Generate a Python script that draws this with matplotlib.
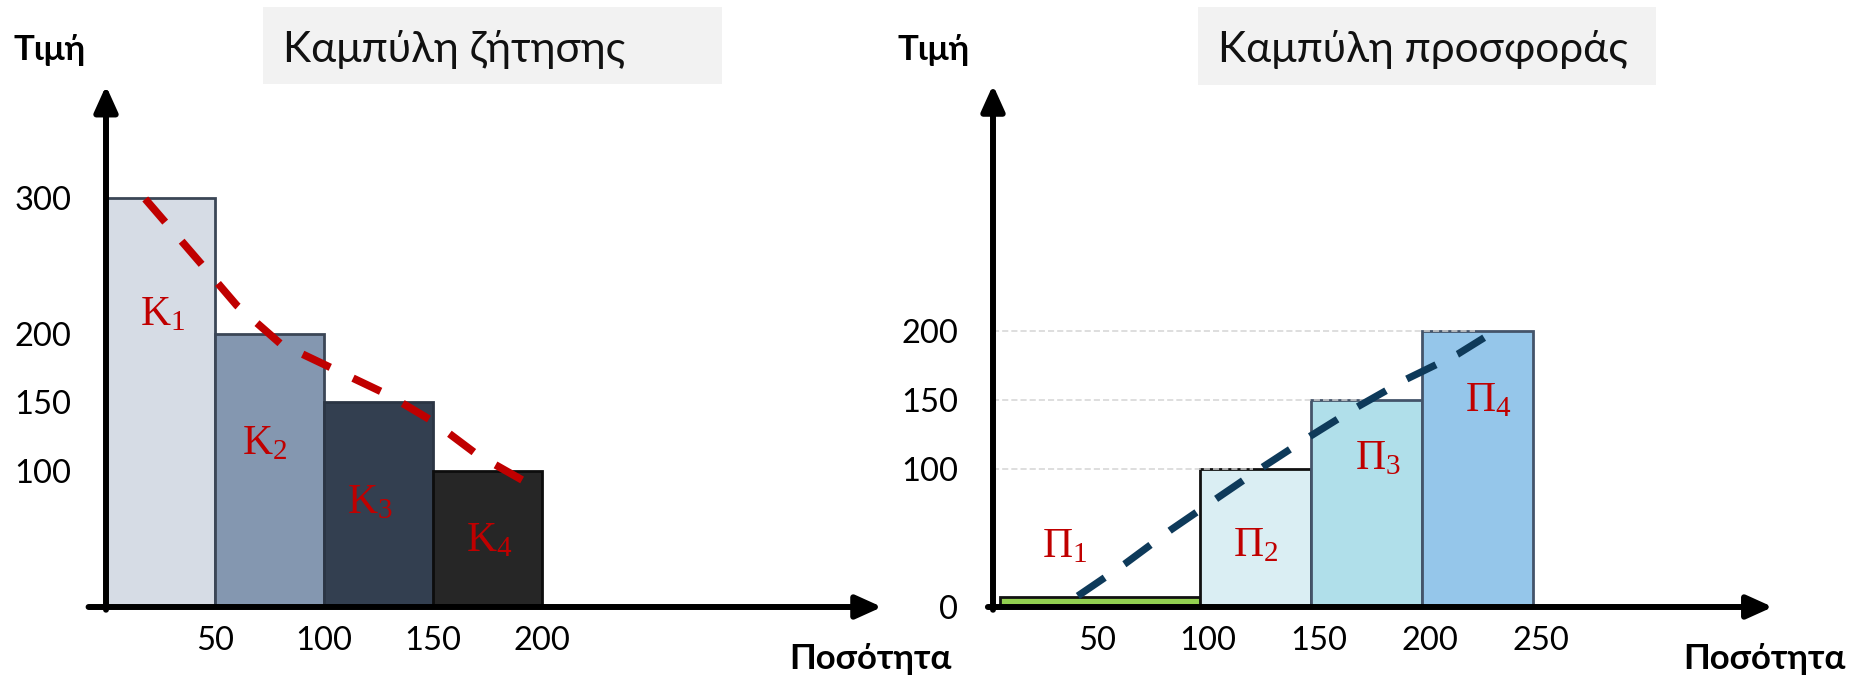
import matplotlib
matplotlib.use("Agg")
import matplotlib.pyplot as plt
import matplotlib.transforms as mtransforms
from matplotlib.patches import Rectangle

# ---- demand side (Καμπύλη ζήτησης) ----
demand_qty = [0, 50, 100, 150]          # left edge of each step
demand_width = 50
demand_price = [300, 200, 150, 100]
demand_names = [r"$\mathrm{Κ}_{1}$", r"$\mathrm{Κ}_{2}$", r"$\mathrm{Κ}_{3}$", r"$\mathrm{Κ}_{4}$"]
demand_name_q = [26, 73, 121, 176]
demand_name_p = [215, 120, 77, 49]
demand_curve_q = [18, 45, 60, 80, 105, 130, 150, 170, 191]
demand_curve_p = [299, 249, 221, 193, 174, 155, 136, 112, 93]
demand_xticks = [50, 100, 150, 200]
demand_yticks = [100, 150, 200, 300]

# ---- supply side (Καμπύλη προσφοράς) ----
supply_left = [10, 100, 150, 200]
supply_right = [100, 150, 200, 250]
supply_price = [0, 100, 150, 200]
supply_names = [r"$\mathrm{Π}_{1}$", r"$\mathrm{Π}_{2}$", r"$\mathrm{Π}_{3}$", r"$\mathrm{Π}_{4}$"]
supply_name_q = [39, 125, 180, 230]
supply_name_p = [44, 45, 108, 150]
supply_curve_q = [45, 66, 87, 107, 128, 149, 171, 193, 216, 228]
supply_curve_p = [8, 31, 56, 78, 101, 123, 145, 165, 183, 195]
supply_xticks = [50, 100, 150, 200, 250]
supply_yticks = [0, 100, 150, 200]

# ---- styling ----
demand_colors = ["#d6dce5", "#8497b0", "#333f50", "#262626"]
demand_edges = ["#3b4656", "#3b4656", "#2b3544", "#0d0d0d"]
supply_colors = ["#92d050", "#daeef3", "#b0dfea", "#95c6ea"]
supply_edges = ["#111111", "#111111", "#44546a", "#44546a"]
LABEL_RED = "#c00000"
LINE_BLUE = "#0e3a5a"

plt.rcParams["font.family"] = ["Lato", "Roboto", "DejaVu Sans"]
plt.rcParams["mathtext.fontset"] = "custom"
plt.rcParams["mathtext.rm"] = "Liberation Serif"
plt.rcParams["mathtext.it"] = "Liberation Serif:italic"
plt.rcParams["mathtext.bf"] = "Liberation Serif:bold"

W, H, DPI = 1852, 678, 100
fig = plt.figure(figsize=(W / DPI, H / DPI), dpi=DPI)
fig.patch.set_facecolor("white")


def px_axes(left, top, right, bottom):
    return fig.add_axes([left / W, 1 - bottom / H, (right - left) / W, (bottom - top) / H])


def fig_text(x, y, s, **kw):
    return fig.text(x / W, 1 - y / H, s, **kw)


def title_box(left, top, right, bottom, text, text_x, baseline):
    fig.add_artist(Rectangle((left / W, 1 - bottom / H), (right - left) / W, (bottom - top) / H,
                             transform=fig.transFigure, facecolor="#f2f2f2", edgecolor="none"))
    fig_text(text_x, baseline, text, fontsize=30.5, va="baseline", ha="left", color="#111111")


def axis_arrows(ax, x0, y0, xmax, ymax, xstart, ystart):
    style = dict(arrowstyle="-|>,head_width=0.28,head_length=0.62", lw=4.3, color="black",
                 shrinkA=0, shrinkB=0, mutation_scale=25)
    ax.annotate("", xy=(x0, ymax), xytext=(x0, ystart), arrowprops=style,
                annotation_clip=False, zorder=6)
    ax.annotate("", xy=(xmax, y0), xytext=(xstart, y0), arrowprops=style,
                annotation_clip=False, zorder=6)


def style_axes(ax, xticks, yticks):
    for s in ax.spines.values():
        s.set_visible(False)
    ax.set_xticks(xticks)
    ax.set_xticklabels([str(v) for v in xticks])
    ax.set_yticks(yticks)
    ax.set_yticklabels([str(v) for v in yticks])
    ax.tick_params(axis="both", length=0, labelsize=23.5, colors="black")
    ax.tick_params(axis="x", pad=14)
    ax.tick_params(axis="y", pad=25)
    ax.patch.set_alpha(0)


# ---------------- demand chart ----------------
ax1 = px_axes(106, 85.7, 882, 607)
ax1.set_xlim(0, 356)
ax1.set_ylim(0, 382)
ax1.bar(demand_qty, demand_price, width=demand_width, align="edge",
        color=demand_colors, edgecolor=demand_edges, linewidth=2.0, zorder=2)
ax1.plot(demand_curve_q, demand_curve_p, color=LABEL_RED, lw=5.5,
         dashes=(4, 3.3), dash_capstyle="butt", zorder=4)
for name, q, p in zip(demand_names, demand_name_q, demand_name_p):
    ax1.text(q, p, name, color=LABEL_RED, fontsize=30, ha="center", va="center", zorder=5)
style_axes(ax1, demand_xticks, demand_yticks)
axis_arrows(ax1, 0, 0, 356, 382, -8, -2)

# ---------------- supply chart ----------------
ax2 = px_axes(993, 85, 1772.8, 607)
ax2.set_xlim(6.8, 358)
ax2.set_ylim(0, 378)
min_visible = 7
heights = [max(p, min_visible) for p in supply_price]
widths = [r - l for l, r in zip(supply_left, supply_right)]
ax2.bar(supply_left, heights, width=widths, align="edge",
        color=supply_colors, edgecolor=supply_edges, linewidth=2.0, zorder=2)
for p, l in zip(supply_price[1:], supply_left[1:]):
    ax2.plot([6.8, l + 24], [p, p], color="#d4d4d4", lw=1.1, ls=(0, (4, 2)), zorder=3)
ax2.plot(supply_curve_q, supply_curve_p, color=LINE_BLUE, lw=5.2,
         dashes=(4.5, 3.3), dash_capstyle="butt", zorder=4)
for name, q, p in zip(supply_names, supply_name_q, supply_name_p):
    ax2.text(q, p, name, color=LABEL_RED, fontsize=30, ha="center", va="center", zorder=5)
style_axes(ax2, supply_xticks, supply_yticks)
shift = mtransforms.ScaledTranslation(8 / DPI, 0, fig.dpi_scale_trans)
for lbl in ax2.get_xticklabels():
    lbl.set_transform(lbl.get_transform() + shift)
axis_arrows(ax2, 6.8, 0, 358, 378, 4.5, -2)

# ---------------- titles and axis names ----------------
title_box(263, 7, 722, 84, "Καμπύλη ζήτησης", 283, 62)
title_box(1198, 7, 1656, 85, "Καμπύλη προσφοράς", 1218, 62)

fig_text(14, 60, "Τιμή", fontsize=25, fontweight="bold", va="baseline", ha="left")
fig_text(898, 60, "Τιμή", fontsize=25, fontweight="bold", va="baseline", ha="left")
fig_text(789, 669, "Ποσότητα", fontsize=25, fontweight="bold", va="baseline", ha="left")
fig_text(1683, 669, "Ποσότητα", fontsize=25, fontweight="bold", va="baseline", ha="left")

fig.savefig("out.png", dpi=DPI, facecolor="white")
